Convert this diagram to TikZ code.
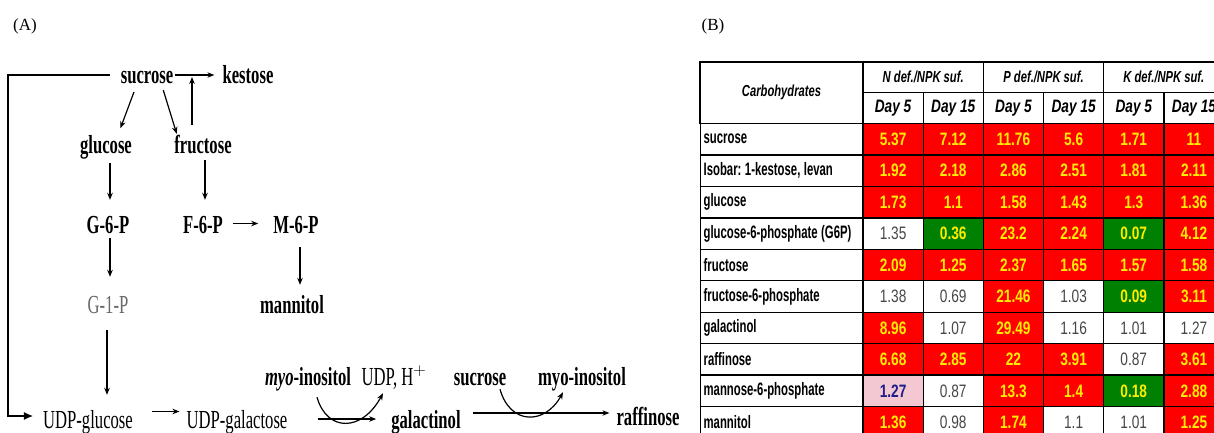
\documentclass[tikz,border=0pt]{standalone}
\usepackage{fontspec}
\setmainfont{Liberation Serif}
\newfontfamily\pwf[FakeStretch=0.64]{Liberation Serif}
\newfontfamily\tbf[FakeStretch=0.7]{Liberation Sans}
\newfontfamily\tbg[FakeStretch=0.76]{Liberation Sans}
\newfontfamily\tbl[FakeStretch=0.63]{Liberation Sans}
\usetikzlibrary{arrows.meta}
\frenchspacing
\definecolor{cred}{RGB}{255,0,0}
\definecolor{cgreen}{RGB}{0,128,0}
\definecolor{cpink}{RGB}{244,200,210}
\definecolor{cyel}{RGB}{255,236,0}
\definecolor{cgray}{RGB}{70,70,70}
\definecolor{cnavy}{RGB}{30,30,140}
\definecolor{glp}{RGB}{105,105,105}
\tikzset{
  met/.style={inner sep=0pt, text height=18pt, text depth=5pt, anchor=base,
    font=\pwf\fontsize{26}{29}\selectfont\bfseries},
  metn/.style={met, font=\pwf\fontsize{26}{29}\selectfont},
  rx/.style={-{Stealth[length=7pt,width=5.5pt]}, line width=1.2pt},
  rxbig/.style={-{Latex[length=9pt,width=8pt]}, line width=1.2pt},
  panel/.style={font=\fontsize{17}{20}\selectfont, inner sep=0pt, anchor=base},
  tcell/.style={draw=black, line width=1.3pt, inner sep=0pt, minimum width=60.17pt, minimum height=31.45pt},
  lab/.style={tcell, anchor=west, text width=157pt, inner xsep=3pt, align=left,
    font=\tbl\fontsize{18}{20}\selectfont\bfseries},
  hd/.style={draw=black, line width=1.3pt, inner sep=0pt, font=\tbf\fontsize{16}{18}\selectfont\bfseries\itshape},
  dh/.style={hd, font=\tbg\fontsize{18}{20}\selectfont\bfseries\itshape},
  vR/.style={fill=cred, text=cyel, font=\tbg\fontsize{18}{20}\selectfont\bfseries},
  vW/.style={fill=white, text=cgray, font=\tbg\fontsize{18}{20}\selectfont},
  vG/.style={fill=cgreen, text=cyel, font=\tbg\fontsize{18}{20}\selectfont\bfseries},
  vP/.style={fill=cpink, text=cnavy, font=\tbg\fontsize{18}{20}\selectfont\bfseries},
}
\newcommand\datarow[3]{%
  \node[lab] (lab#1) at (700,{123.5+31.45*(#1-0.5)}) {\frenchspacing\spaceskip=3.5pt\relax\mbox{#2}};
  \foreach \v/\c [count=\i] in {#3} {
    \node[tcell,\c] (c#1-\i) at ({863+60.17*(\i-0.5)},{123.5+31.45*(#1-0.5)}) {\v};
  }
}
\begin{document}
\begin{tikzpicture}[x=1pt,y=-1pt]
\clip (0,0) rectangle (1214,433);
\fill[white] (0,0) rectangle (1214,433);

% panel labels
\node[panel] (pa) at (25,31) {(A)};
\node[panel] (pb) at (713,31) {(B)};

% metabolites
\node[met] (sucrose) at (147,84) {sucrose};
\node[met] (kestose) at (248,84) {kestose};
\node[met] (glucose) at (106,153) {glucose};
\node[met] (fructose) at (203,153) {fructose};
\node[met] (G6P) at (108,233) {G-6-P};
\node[met] (F6P) at (203,233) {F-6-P};
\node[met] (M6P) at (296,233) {M-6-P};
\node[metn, text=glp] (G1P) at (108,313) {G-1-P};
\node[met] (mannitol) at (292,313) {mannitol};
\node[metn] (udpglc) at (88,428) {UDP-glucose};
\node[metn] (udpgal) at (237,428) {UDP-galactose};
\node[met] (myoa) at (308,385) {\itshape myo\upshape-inositol};
\node[metn] (udph) at (394,385) {UDP, H$^{+}$};
\node[met] (galactinol) at (426,428) {galactinol};
\node[met] (sucb) at (480,385) {sucrose};
\node[met] (myob) at (582,385) {myo-inositol};
\node[met] (raffinose) at (648,425) {raffinose};

% helper coordinates
\coordinate (colG) at (110,0);
\coordinate (colF) at (205,0);
\coordinate (colM) at (300,0);
\coordinate (colU) at (107,0);
\coordinate (kj) at (192,77);
\coordinate (corner) at (8,416);

% connectors
\draw[rxbig] ([xshift=-11pt,yshift=2.5pt]sucrose.west) -| (corner) -- ([xshift=-10pt]udpglc.west |- corner);
\draw[rx, shorten <=2pt, shorten >=8pt] ([yshift=2.5pt]sucrose.east) -- ([yshift=2.5pt]kestose.west);
\draw[rx, shorten <=10pt] (fructose.north -| kj) -- (kj);
\draw[rx, shorten <=3pt, shorten >=7pt] ([xshift=-12pt]sucrose.south) -- ([xshift=12pt]glucose.north);
\draw[rx, shorten <=1pt, shorten >=1pt] ([xshift=16pt]sucrose.south) -- ([xshift=-26pt]fructose.north);
\draw[rx, shorten <=5pt, shorten >=15pt] (glucose.south -| colG) -- (G6P.north -| colG);
\draw[rx, shorten <=2pt, shorten >=15pt] (fructose.south -| colF) -- (F6P.north -| colF);
\draw[rx, shorten <=10pt, shorten >=15pt] ([yshift=3pt]F6P.east) -- ([yshift=3pt]M6P.west);
\draw[rx, shorten <=0pt, shorten >=18pt] (G6P.south -| colG) -- (G1P.north -| colG);
\draw[rx, shorten <=9pt, shorten >=10pt] (M6P.south -| colM) -- (mannitol.north -| colM);
\draw[rx, shorten <=12pt, shorten >=15pt] (G1P.south -| colU) -- (udpglc.north -| colU);
\draw[rx, shorten <=19pt, shorten >=7pt] ([yshift=10pt]udpglc.east) -- ([yshift=10pt]udpgal.west);
\draw[rx, shorten <=30pt, shorten >=15pt] ([yshift=2.5pt]udpgal.east) -- ([yshift=2.5pt]galactinol.west);
\draw[rx] ([xshift=9pt,yshift=-7pt]myoa.south) .. controls +(10,35) and +(-21,39) .. ([xshift=-11pt,yshift=-3pt]udph.south);
\draw[rx, shorten <=12pt, shorten >=7pt] ([yshift=8.5pt]galactinol.east) -- ([yshift=5.5pt]raffinose.west);
\draw[rx] ([xshift=20pt,yshift=1pt]sucb.south) .. controls +(10,36) and +(-18,33) .. ([xshift=-19pt,yshift=-2pt]myob.south);

% table header
\node[hd, minimum width=163pt, minimum height=61.5pt] (carb) at (781.5,92.75) {Carbohydrates};
\node[hd, minimum width=120.34pt, minimum height=30.5pt] (gN) at (923.17,77.25) {N def./NPK suf.};
\node[hd, minimum width=120.34pt, minimum height=30.5pt] (gP) at (1043.5,77.25) {P def./NPK suf.};
\node[hd, minimum width=120.34pt, minimum height=30.5pt] (gK) at (1163.85,77.25) {K def./NPK suf.};
\foreach \d [count=\i] in {Day 5,Day 15,Day 5,Day 15,Day 5,Day 15} {
  \node[dh, minimum width=60.17pt, minimum height=31pt] (day\i) at ({863+60.17*(\i-0.5)},108) {\d};
}

% table body
\datarow{1}{sucrose}{5.37/vR,7.12/vR,11.76/vR,5.6/vR,1.71/vR,11/vR}
\datarow{2}{Isobar: 1-kestose, levan}{1.92/vR,2.18/vR,2.86/vR,2.51/vR,1.81/vR,2.11/vR}
\datarow{3}{glucose}{1.73/vR,1.1/vR,1.58/vR,1.43/vR,1.3/vR,1.36/vR}
\datarow{4}{glucose-6-phosphate (G6P)}{1.35/vW,0.36/vG,23.2/vR,2.24/vR,0.07/vG,4.12/vR}
\datarow{5}{fructose}{2.09/vR,1.25/vR,2.37/vR,1.65/vR,1.57/vR,1.58/vR}
\datarow{6}{fructose-6-phosphate}{1.38/vW,0.69/vW,21.46/vR,1.03/vW,0.09/vG,3.11/vR}
\datarow{7}{galactinol}{8.96/vR,1.07/vW,29.49/vR,1.16/vW,1.01/vW,1.27/vW}
\datarow{8}{raffinose}{6.68/vR,2.85/vR,22/vR,3.91/vR,0.87/vW,3.61/vR}
\datarow{9}{mannose-6-phosphate}{1.27/vP,0.87/vW,13.3/vR,1.4/vR,0.18/vG,2.88/vR}
\datarow{10}{mannitol}{1.36/vR,0.98/vW,1.74/vR,1.1/vW,1.01/vW,1.25/vR}
\end{tikzpicture}
\end{document}
